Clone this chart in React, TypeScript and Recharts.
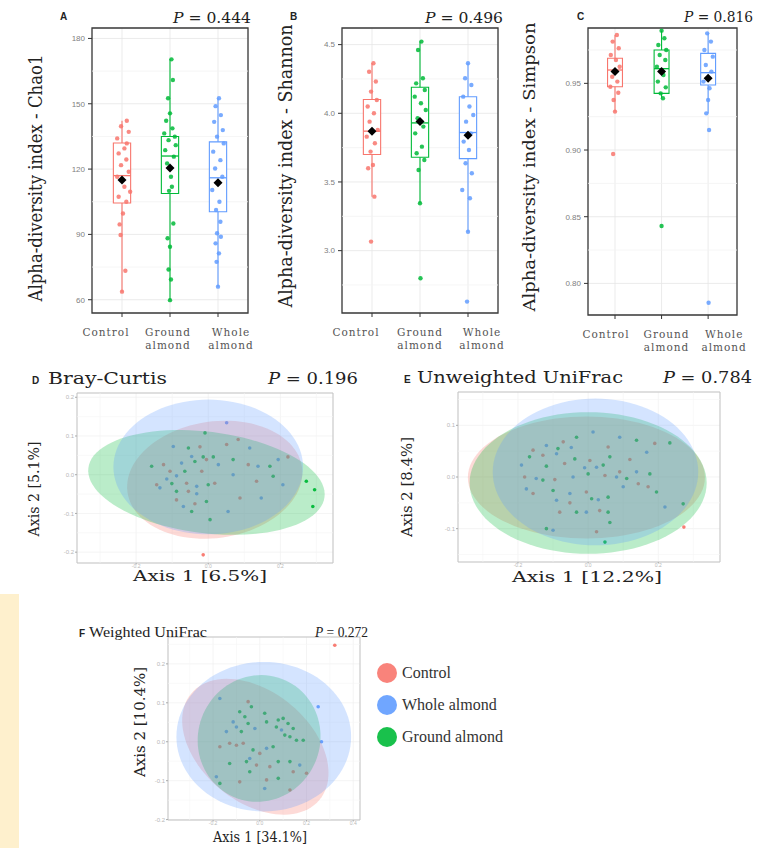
import React from "react";
import { ScatterChart, Scatter, XAxis, YAxis, CartesianGrid, ReferenceArea, ReferenceLine, Legend } from "recharts";

const RED = "#F8766D";
const GREEN = "#00BA38";
const BLUE = "#619CFF";
const SERIF = "'DejaVu Serif', serif";
const TIMES = "'Liberation Serif', serif";
const SANS = "'Liberation Sans', Arial, sans-serif";

const GROUPS = ["Control", "Ground almond", "Whole almond"];
const GROUP_COLORS = [RED, GREEN, BLUE];
const TICK_LINES = [["Control"], ["Ground", "almond"], ["Whole", "almond"]];
const LEGEND_ORDER = [0, 2, 1];
const P_VALUES = ["0.444", "0.496", "0.816", "0.196", "0.784", "0.272"];

type Pair = [number, number];
type BoxStat = { min: number; q1: number; median: number; q3: number; max: number; mean: number };
type Ellipse = { cx: number; cy: number; ax: number; ay: number; bx: number; by: number };

// ---- A: Chao1 (jitter offset, value)
const CHAO1_TICKS = [60, 90, 120, 150, 180];
const CHAO1_MINOR = [75, 105, 135, 165];
const CHAO1_CONTROL: Pair[] = [[0.1, 142.2], [-0.02, 139.7], [0.14, 137.1], [-0.1, 134.1], [0.1, 131.8], [0.05, 129.5], [-0.07, 127.2], [0.09, 124.4], [-0.02, 121.8], [0.14, 118.8], [-0.1, 116.5], [0.05, 111.9], [0.17, 109.6], [-0.07, 107.3], [0.09, 105.0], [0.02, 99.6], [-0.05, 94.6], [-0.03, 89.7], [0.07, 73.3], [0.0, 63.7]];
const CHAO1_GROUND: Pair[] = [[0.03, 170.4], [0.06, 160.9], [-0.04, 152.5], [0.0, 145.6], [-0.08, 142.2], [0.05, 138.7], [-0.12, 136.4], [0.1, 134.9], [-0.03, 133.3], [0.12, 131.0], [-0.1, 128.7], [0.08, 125.7], [-0.06, 122.6], [0.02, 116.5], [0.04, 111.9], [-0.02, 110.0], [0.07, 95.0], [-0.05, 88.2], [0.0, 84.3], [-0.03, 73.9], [0.02, 69.3], [0.0, 59.8]];
const CHAO1_WHOLE: Pair[] = [[0.02, 152.5], [-0.05, 148.9], [0.06, 144.8], [-0.08, 141.7], [0.1, 137.9], [-0.02, 134.9], [0.12, 131.8], [-0.1, 128.0], [0.05, 124.1], [-0.06, 120.3], [0.09, 116.5], [-0.12, 110.4], [0.03, 105.0], [-0.04, 101.2], [0.05, 95.8], [-0.02, 90.5], [0.06, 88.9], [-0.05, 85.9], [0.02, 81.3], [-0.03, 77.4], [0.0, 66.0]];
const CHAO1_BOX: BoxStat[] = [
  { min: 63.7, q1: 104.4, median: 117, q3: 132, max: 142.2, mean: 115 },
  { min: 59.8, q1: 108.8, median: 126, q3: 135, max: 170.4, mean: 120.5 },
  { min: 66.0, q1: 100.4, median: 116, q3: 132.5, max: 152.5, mean: 113.7 },
];

// ---- B: Shannon
const SHANNON_TICKS = [3.0, 3.5, 4.0, 4.5];
const SHANNON_MINOR = [2.75, 3.25, 3.75, 4.25];
const SHANNON_CONTROL: Pair[] = [[0.03, 4.364], [-0.06, 4.303], [0.08, 4.231], [-0.02, 4.158], [0.1, 4.097], [-0.09, 4.049], [0.04, 4.0], [-0.05, 3.939], [0.12, 3.879], [-0.11, 3.83], [0.06, 3.782], [-0.03, 3.721], [0.02, 3.624], [-0.08, 3.6], [0.05, 3.393], [-0.02, 3.066]];
const SHANNON_GROUND: Pair[] = [[0.03, 4.522], [-0.04, 4.461], [0.06, 4.255], [-0.08, 4.218], [0.1, 4.17], [-0.11, 4.121], [0.02, 4.073], [0.12, 4.024], [-0.05, 3.964], [0.07, 3.903], [-0.1, 3.854], [0.04, 3.757], [-0.07, 3.709], [0.09, 3.66], [-0.03, 3.587], [0.0, 3.345], [0.01, 2.799]];
const SHANNON_WHOLE: Pair[] = [[0.0, 4.364], [-0.06, 4.255], [0.07, 4.206], [-0.1, 4.121], [0.03, 4.049], [0.11, 3.988], [-0.04, 3.939], [0.06, 3.854], [-0.09, 3.794], [0.02, 3.733], [-0.05, 3.636], [0.08, 3.563], [-0.12, 3.442], [0.04, 3.381], [0.0, 3.138], [-0.02, 2.629]];
const SHANNON_BOX: BoxStat[] = [
  { min: 3.393, q1: 3.7, median: 3.87, q3: 4.1, max: 4.364, mean: 3.87 },
  { min: 3.345, q1: 3.68, median: 3.93, q3: 4.19, max: 4.522, mean: 3.94 },
  { min: 3.138, q1: 3.67, median: 3.86, q3: 4.12, max: 4.364, mean: 3.84 },
];

// ---- C: Simpson
const SIMPSON_TICKS = [0.8, 0.85, 0.9, 0.95];
const SIMPSON_MINOR = [0.825, 0.875, 0.925, 0.975];
const SIMPSON_CONTROL: Pair[] = [[0.04, 0.9863], [-0.05, 0.9813], [0.08, 0.9763], [-0.09, 0.9713], [0.02, 0.9675], [0.1, 0.9625], [-0.06, 0.955], [0.05, 0.9513], [-0.1, 0.9475], [0.07, 0.943], [-0.03, 0.9375], [0.0, 0.9288], [-0.04, 0.897]];
const SIMPSON_GROUND: Pair[] = [[0.0, 0.9895], [0.06, 0.9838], [-0.07, 0.9788], [0.1, 0.975], [-0.04, 0.9713], [0.08, 0.9675], [-0.1, 0.9625], [0.04, 0.9563], [-0.08, 0.9513], [0.09, 0.947], [-0.02, 0.9425], [0.03, 0.9388], [0.0, 0.843]];
const SIMPSON_WHOLE: Pair[] = [[-0.02, 0.9875], [0.06, 0.9813], [-0.08, 0.975], [0.1, 0.97], [-0.05, 0.9638], [0.07, 0.9588], [-0.1, 0.9513], [0.03, 0.9463], [0.0, 0.9375], [-0.04, 0.9275], [0.02, 0.915], [0.01, 0.7855]];
const SIMPSON_BOX: BoxStat[] = [
  { min: 0.9288, q1: 0.9475, median: 0.96, q3: 0.9688, max: 0.9863, mean: 0.9588 },
  { min: 0.9388, q1: 0.9425, median: 0.961, q3: 0.975, max: 0.9895, mean: 0.9588 },
  { min: 0.9275, q1: 0.9488, median: 0.958, q3: 0.9725, max: 0.9875, mean: 0.9538 },
];

// ---- D: Bray-Curtis PCoA (axis1, axis2)
const BRAY_CONTROL: Pair[] = [[0.083, 0.091], [-0.023, 0.072], [0.051, 0.078], [0.221, 0.046], [-0.124, 0.026], [-0.005, 0.039], [0.111, 0.026], [-0.106, 0.009], [-0.018, 0.009], [0.134, -0.017], [-0.143, -0.026], [-0.06, -0.022], [0.018, -0.022], [-0.055, -0.043], [0.088, -0.06], [-0.088, -0.065], [-0.037, -0.075], [-0.014, -0.207]];
const BRAY_GROUND: Pair[] = [[-0.009, 0.108], [-0.055, 0.069], [-0.014, 0.046], [0.014, 0.046], [-0.157, 0.022], [-0.037, 0.034], [0.069, 0.039], [0.171, 0.022], [-0.065, 0.009], [0.18, -0.004], [0.272, -0.017], [0.295, -0.039], [-0.101, -0.023], [0.0, -0.026], [-0.088, -0.043], [-0.005, -0.069], [0.29, -0.082], [-0.046, -0.095], [0.005, -0.116]];
const BRAY_WHOLE: Pair[] = [[0.051, 0.134], [-0.097, 0.073], [-0.046, 0.047], [0.115, 0.069], [0.194, 0.039], [-0.074, 0.03], [0.028, 0.026], [0.138, 0.022], [-0.088, -0.003], [0.069, 0.0], [0.207, -0.026], [-0.115, -0.011], [-0.032, -0.03], [-0.134, -0.034], [-0.032, -0.049], [0.147, -0.06], [-0.069, -0.082], [0.055, -0.095]];
const BRAY_ELLIPSES: Ellipse[] = [
  { cx: 0.018, cy: -0.013, ax: 0.242, ay: 0.032, bx: -0.022, by: 0.149 },
  { cx: -0.005, cy: -0.02, ax: 0.3275, ay: -0.0376, bx: 0.0171, by: 0.13 },
  { cx: 0.0, cy: 0.02, ax: 0.263, ay: 0, bx: 0, by: 0.174 },
];

// ---- E: Unweighted UniFrac
const UNW_CONTROL: Pair[] = [[-0.071, 0.068], [0.19, 0.065], [-0.157, 0.052], [0.057, 0.058], [-0.129, 0.042], [0.005, 0.032], [0.119, 0.034], [-0.067, 0.026], [0.09, 0.01], [-0.181, 0.0], [-0.095, -0.005], [0.048, 0.003], [0.143, -0.013], [-0.157, -0.032], [-0.005, -0.029], [0.171, -0.019], [-0.052, -0.05], [-0.081, -0.068], [0.033, -0.065], [0.024, -0.106], [0.273, -0.097]];
const UNW_GROUND: Pair[] = [[-0.033, 0.077], [0.138, 0.071], [0.233, 0.066], [-0.086, 0.055], [-0.167, 0.039], [-0.038, 0.035], [0.062, 0.039], [-0.119, 0.021], [0.043, 0.023], [0.176, 0.006], [-0.129, -0.006], [0.0, 0.006], [0.11, -0.003], [-0.1, -0.026], [0.057, -0.039], [0.195, -0.029], [0.01, -0.042], [-0.033, -0.068], [0.057, -0.068], [0.062, -0.088], [0.271, -0.052], [-0.119, -0.1], [0.048, -0.126]];
const UNW_WHOLE: Pair[] = [[0.014, 0.087], [0.09, 0.077], [-0.119, 0.061], [-0.048, 0.057], [0.167, 0.048], [-0.09, 0.045], [0.024, 0.019], [-0.19, 0.023], [-0.01, 0.018], [0.138, 0.01], [-0.148, -0.003], [-0.043, 0.0], [0.081, 0.0], [-0.176, -0.023], [-0.052, -0.032], [0.1, -0.019], [-0.09, -0.045], [0.029, -0.044], [-0.005, -0.068], [0.219, -0.058], [-0.1, -0.103]];
const UNW_ELLIPSES: Ellipse[] = [
  { cx: -0.005, cy: -0.001, ax: 0.338, ay: 0, bx: 0, by: 0.118 },
  { cx: 0.0, cy: -0.0116, ax: 0.338, ay: 0, bx: 0, by: 0.137 },
  { cx: 0.021, cy: 0.0097, ax: 0.293, ay: 0, bx: 0, by: 0.142 },
];

// ---- F: Weighted UniFrac
const W_CONTROL: Pair[] = [[0.321, 0.248], [-0.171, -0.013], [-0.129, -0.004], [-0.1, -0.009], [0.0, -0.03], [-0.014, -0.06], [0.043, -0.064], [0.2, -0.081], [0.029, -0.098], [0.129, -0.124], [-0.086, -0.103], [-0.071, -0.004], [0.143, -0.077], [-0.05, 0.103]];
const W_GROUND: Pair[] = [[-0.036, 0.09], [0.021, 0.073], [-0.086, 0.077], [-0.064, 0.064], [-0.05, 0.047], [-0.079, 0.026], [0.029, 0.051], [0.079, 0.056], [0.1, 0.06], [0.121, 0.047], [0.143, 0.034], [0.071, 0.038], [0.107, 0.017], [0.129, 0.013], [0.157, 0.004], [0.186, 0.004], [-0.029, -0.021], [0.057, -0.013], [-0.129, -0.056], [-0.057, -0.051], [0.079, -0.051], [0.129, -0.051], [-0.171, -0.107], [-0.043, -0.077], [0.079, -0.094]];
const W_WHOLE: Pair[] = [[-0.114, 0.051], [-0.143, 0.026], [0.25, 0.09], [0.264, 0.0], [0.029, -0.017], [-0.1, 0.038], [-0.021, 0.034], [0.093, 0.03], [-0.043, -0.043], [0.171, -0.06], [-0.186, -0.09], [0.021, -0.12], [-0.171, 0.111]];
const W_ELLIPSES: Ellipse[] = [
  { cx: -0.019, cy: -0.0128, ax: 0.274, ay: -0.137, bx: 0.152, by: 0.108 },
  { cx: -0.003, cy: 0.0085, ax: 0.26, ay: 0.03, bx: -0.04, by: 0.16 },
  { cx: 0.017, cy: 0.013, ax: 0.374, ay: 0, bx: 0, by: 0.192 },
];

type Frame = { x0: number; x1: number; y0: number; y1: number };

const noDot = () => <g />;
const dot = (color: string, r: number, opacity = 0.9) => (p: any) => (
  <circle cx={p.cx} cy={p.cy} r={r} fill={color} fillOpacity={opacity} />
);
const diamond = (p: any) => (
  <path d={`M${p.cx},${p.cy - 4.5}L${p.cx + 4.5},${p.cy}L${p.cx},${p.cy + 4.5}L${p.cx - 4.5},${p.cy}Z`} fill="#000" />
);

function ellipseOutline(e: Ellipse, n = 96) {
  const pts: { x: number; y: number }[] = [];
  for (let i = 0; i < n; i++) {
    const t = (2 * Math.PI * i) / n;
    pts.push({ x: e.cx + e.ax * Math.cos(t) + e.bx * Math.sin(t), y: e.cy + e.ay * Math.cos(t) + e.by * Math.sin(t) });
  }
  return pts;
}

const toXY = (pts: Pair[], base = 0) => pts.map(([a, b]) => ({ x: base + a, y: b }));

function BoxPanel({ frame, xDomain, yDomain, yTicks, yMinor, fmt, stats, groups, hw, labelDx }: {
  frame: Frame; xDomain: [number, number]; yDomain: [number, number]; yTicks: number[]; yMinor: number[];
  fmt: (v: number) => string; stats: BoxStat[]; groups: Pair[][]; hw: number; labelDx: number[];
}) {
  const YW = 32;
  const XH = 42;
  const RIGHT = 26;
  const left = frame.x0 - YW;
  const top = frame.y0 - 2;
  const width = frame.x1 - left + RIGHT;
  const height = frame.y1 - top + XH;

  const CatTick = (props: any) => {
    const { x, payload } = props;
    const i = Math.round(payload.value) - 1;
    const lines = TICK_LINES[i] || [];
    const base = frame.y1 - top;
    return (
      <g>
        {lines.map((l, k) => (
          <text key={k} x={x + labelDx[i]} y={base + 23 + k * 12.5} textAnchor="middle" fontFamily={SERIF} fontSize={10.5} letterSpacing={1} fill="#555">{l}</text>
        ))}
      </g>
    );
  };

  const series: React.ReactNode[] = [];
  stats.forEach((s, i) => {
    const c = i + 1;
    const col = GROUP_COLORS[i];
    series.push(
      <Scatter key={`w${i}`} data={[{ x: c, y: s.max }, { x: c, y: s.min }]} fill={col} line={{ stroke: col, strokeWidth: 1.1 }} shape={noDot} isAnimationActive={false} />
    );
    series.push(
      <Scatter key={`b${i}`} data={[{ x: c - hw, y: s.q1 }, { x: c + hw, y: s.q1 }, { x: c + hw, y: s.q3 }, { x: c - hw, y: s.q3 }]} fill={col} lineJointType="linearClosed" line={{ stroke: col, strokeWidth: 1.1, fill: "#fff" }} shape={noDot} isAnimationActive={false} />
    );
    series.push(
      <Scatter key={`m${i}`} data={[{ x: c - hw, y: s.median }, { x: c + hw, y: s.median }]} fill={col} line={{ stroke: col, strokeWidth: 1.3 }} shape={noDot} isAnimationActive={false} />
    );
  });
  groups.forEach((g, i) => {
    series.push(<Scatter key={`p${i}`} data={toXY(g, i + 1)} fill={GROUP_COLORS[i]} shape={dot(GROUP_COLORS[i], 2.2, 0.85)} isAnimationActive={false} />);
  });
  series.push(<Scatter key="mean" data={stats.map((s, i) => ({ x: i + 1, y: s.mean }))} fill="#000" shape={diamond} isAnimationActive={false} />);

  return (
    <div style={{ position: "absolute", left, top }}>
      <ScatterChart width={width} height={height} margin={{ top: 2, right: RIGHT, bottom: 0, left: 0 }}>
        <CartesianGrid stroke="#e6e6e6" strokeWidth={0.8} />
        {yMinor.map((v) => <ReferenceLine key={v} y={v} stroke="#f2f2f2" strokeWidth={0.8} />)}
        <XAxis type="number" dataKey="x" domain={xDomain} ticks={[1, 2, 3]} allowDataOverflow axisLine={false} tickSize={4} tickLine={{ stroke: "#333" }} height={XH} tick={<CatTick />} interval={0} />
        <YAxis type="number" dataKey="y" domain={yDomain} ticks={yTicks} allowDataOverflow axisLine={false} tickSize={4} tickMargin={3} tickLine={{ stroke: "#333" }} width={YW} tick={{ fontSize: 8, fill: "#808080", fontFamily: SANS }} tickFormatter={fmt} interval={0} />
        {series}
        <ReferenceArea x1={xDomain[0]} x2={xDomain[1]} y1={yDomain[0]} y2={yDomain[1]} fill="none" stroke="#3a3a3a" strokeWidth={1.3} />
      </ScatterChart>
    </div>
  );
}

function PcoaLegend() {
  return (
    <div>
      {LEGEND_ORDER.map((g) => (
        <div key={g} style={{ display: "flex", alignItems: "center", height: 32 }}>
          <span style={{ display: "inline-block", width: 20, height: 20, borderRadius: 10, background: GROUP_COLORS[g], opacity: 0.9 }} />
          <span style={{ marginLeft: 5, fontFamily: TIMES, fontSize: 16, color: "#333" }}>{GROUPS[g]}</span>
        </div>
      ))}
    </div>
  );
}

function PcoaPanel({ frame, xDomain, yDomain, xTicks, yTicks, xMinor, yMinor, groups, ellipses, legend }: {
  frame: Frame; xDomain: [number, number]; yDomain: [number, number]; xTicks: number[]; yTicks: number[];
  xMinor: number[]; yMinor: number[]; groups: Pair[][]; ellipses: Ellipse[]; legend?: boolean;
}) {
  const YW = 14;
  const XH = 8;
  const left = frame.x0 - YW;
  const top = frame.y0 - 2;
  const right = legend ? 170 : 4;
  const width = frame.x1 - left + right;
  const height = frame.y1 - top + XH;
  const f1 = (v: number) => v.toFixed(1);
  return (
    <div style={{ position: "absolute", left, top }}>
      <ScatterChart width={width} height={height} margin={{ top: 2, right, bottom: 0, left: 0 }}>
        <CartesianGrid stroke="#ececec" strokeWidth={0.6} />
        {xMinor.map((v) => <ReferenceLine key={`x${v}`} x={v} stroke="#f5f5f5" strokeWidth={0.6} />)}
        {yMinor.map((v) => <ReferenceLine key={`y${v}`} y={v} stroke="#f5f5f5" strokeWidth={0.6} />)}
        <XAxis type="number" dataKey="x" domain={xDomain} ticks={xTicks} allowDataOverflow axisLine={false} tickSize={1.5} tickMargin={0} tickLine={{ stroke: "#aaa" }} height={XH} tick={{ fontSize: 5, fill: "#b8b8b8", fontFamily: SANS }} tickFormatter={f1} interval={0} />
        <YAxis type="number" dataKey="y" domain={yDomain} ticks={yTicks} allowDataOverflow axisLine={false} tickSize={2} tickMargin={1} tickLine={{ stroke: "#aaa" }} width={YW} tick={{ fontSize: 6, fill: "#b8b8b8", fontFamily: SANS }} tickFormatter={f1} interval={0} />
        {groups.map((g, i) => (
          <Scatter key={`p${i}`} data={toXY(g)} fill={GROUP_COLORS[i]} shape={dot(GROUP_COLORS[i], 1.8, 0.95)} isAnimationActive={false} />
        ))}
        {ellipses.map((e, i) => (
          <Scatter key={`e${i}`} data={ellipseOutline(e)} fill={GROUP_COLORS[i]} lineJointType="linearClosed" line={{ stroke: "none", fill: GROUP_COLORS[i], fillOpacity: 0.27 }} shape={noDot} isAnimationActive={false} />
        ))}
        <ReferenceArea x1={xDomain[0]} x2={xDomain[1]} y1={yDomain[0]} y2={yDomain[1]} fill="none" stroke="#c4c4c4" strokeWidth={1} />
        {legend && (
          <Legend layout="vertical" align="center" verticalAlign="middle" content={<PcoaLegend />}
            wrapperStyle={{ left: 377 - left, top: 657 - top, width: 150 }} />
        )}
      </ScatterChart>
    </div>
  );
}

function Label({ x, y, len, size, family = SERIF, anchor = "start", rotate = false, weight = 400, fill = "#222", children }: any) {
  return (
    <text x={x} y={y} fontSize={size} fontFamily={family} fontWeight={weight} textAnchor={anchor} fill={fill}
      textLength={len} lengthAdjust={len ? "spacingAndGlyphs" : undefined}
      transform={rotate ? `rotate(-90 ${x} ${y})` : undefined}>
      {children}
    </text>
  );
}

function PText({ x, y, len, size, value, family = SERIF }: { x: number; y: number; len: number; size: number; value: string; family?: string }) {
  return (
    <Label x={x} y={y} len={len} size={size} family={family}>
      <tspan fontStyle="italic">P</tspan> = {value}
    </Label>
  );
}

function Letter({ x, y, c }: { x: number; y: number; c: string }) {
  return <Label x={x} y={y} size={10} family={SANS} weight={700}>{c}</Label>;
}

export default function App() {
  return (
    <div style={{ position: "absolute", left: 0, top: 0, width: 774, height: 848, background: "#fff", overflow: "hidden" }}>
      <div style={{ position: "absolute", left: 0, top: 594, width: 19, height: 254, background: "#FEF0CD" }} />

      <BoxPanel frame={{ x0: 92, x1: 248, y0: 28, y1: 313 }} xDomain={[0.375, 3.625]} yDomain={[53.9, 184.8]}
        yTicks={CHAO1_TICKS} yMinor={CHAO1_MINOR} fmt={(v) => String(v)} stats={CHAO1_BOX}
        groups={[CHAO1_CONTROL, CHAO1_GROUND, CHAO1_WHOLE]} hw={0.18} labelDx={[-16, -2, 13]} />
      <BoxPanel frame={{ x0: 342, x1: 498, y0: 28, y1: 313 }} xDomain={[0.375, 3.625]} yDomain={[2.546, 4.621]}
        yTicks={SHANNON_TICKS} yMinor={SHANNON_MINOR} fmt={(v) => v.toFixed(1)} stats={SHANNON_BOX}
        groups={[SHANNON_CONTROL, SHANNON_GROUND, SHANNON_WHOLE]} hw={0.18} labelDx={[-16, 0, 14]} />
      <BoxPanel frame={{ x0: 588, x1: 737, y0: 28, y1: 315 }} xDomain={[0.42, 3.62]} yDomain={[0.7763, 0.9915]}
        yTicks={SIMPSON_TICKS} yMinor={SIMPSON_MINOR} fmt={(v) => v.toFixed(2)} stats={SIMPSON_BOX}
        groups={[SIMPSON_CONTROL, SIMPSON_GROUND, SIMPSON_WHOLE]} hw={0.16} labelDx={[-9, 5, 16]} />

      <PcoaPanel frame={{ x0: 77, x1: 333, y0: 393, y1: 563 }} xDomain={[-0.364, 0.346]} yDomain={[-0.228, 0.211]}
        xTicks={[-0.2, 0, 0.2]} yTicks={[-0.2, -0.1, 0, 0.1, 0.2]} xMinor={[-0.3, -0.1, 0.1, 0.3]} yMinor={[-0.15, -0.05, 0.05, 0.15]}
        groups={[BRAY_CONTROL, BRAY_GROUND, BRAY_WHOLE]} ellipses={BRAY_ELLIPSES} />
      <PcoaPanel frame={{ x0: 458, x1: 720, y0: 392, y1: 562 }} xDomain={[-0.371, 0.376]} yDomain={[-0.1645, 0.1645]}
        xTicks={[-0.2, 0, 0.2]} yTicks={[-0.1, 0, 0.1]} xMinor={[-0.3, -0.1, 0.1, 0.3]} yMinor={[-0.15, -0.05, 0.05, 0.15]}
        groups={[UNW_CONTROL, UNW_GROUND, UNW_WHOLE]} ellipses={UNW_ELLIPSES} />
      <PcoaPanel frame={{ x0: 168, x1: 360, y0: 637, y1: 820 }} xDomain={[-0.393, 0.429]} yDomain={[-0.201, 0.269]}
        xTicks={[-0.2, 0, 0.2, 0.4]} yTicks={[-0.2, -0.1, 0, 0.1, 0.2]} xMinor={[-0.3, -0.1, 0.1, 0.3]} yMinor={[-0.15, -0.05, 0.05, 0.15, 0.25]}
        groups={[W_CONTROL, W_GROUND, W_WHOLE]} ellipses={W_ELLIPSES} legend />

      <svg width={774} height={848} style={{ position: "absolute", left: 0, top: 0, pointerEvents: "none" }}>
        <Letter x={60} y={20} c="A" />
        <PText x={173} y={23} len={78} size={15} value={P_VALUES[0]} />
        <Label x={42} y={178} len={247} size={19} anchor="middle" rotate>Alpha-diversity index - Chao1</Label>

        <Letter x={290} y={20} c="B" />
        <PText x={425} y={23} len={78} size={15} value={P_VALUES[1]} />
        <Label x={292} y={166} len={283} size={19} anchor="middle" rotate>Alpha-diversity index - Shannon</Label>

        <Letter x={577} y={20} c="C" />
        <PText x={684} y={22} len={69} size={14} value={P_VALUES[2]} />
        <Label x={535} y={167} len={289} size={17} anchor="middle" rotate>Alpha-diversity index - Simpson</Label>

        <Letter x={32} y={384} c="D" />
        <Label x={48} y={384} len={119} size={16}>Bray-Curtis</Label>
        <PText x={268} y={384} len={90} size={16} value={P_VALUES[3]} />
        <Label x={39} y={489} len={95} size={15} anchor="middle" rotate>Axis 2 [5.1%]</Label>
        <Label x={200} y={581} len={134} size={14} anchor="middle">Axis 1 [6.5%]</Label>

        <Letter x={404} y={383} c="E" />
        <Label x={417} y={383} len={206} size={16}>Unweighted UniFrac</Label>
        <PText x={663} y={383} len={89} size={16} value={P_VALUES[4]} />
        <Label x={412} y={487} len={100} size={15} anchor="middle" rotate>Axis 2 [8.4%]</Label>
        <Label x={587} y={582} len={150} size={14} anchor="middle">Axis 1 [12.2%]</Label>

        <Letter x={79} y={637} c="F" />
        <Label x={89} y={637} len={118} size={15} family={TIMES}>Weighted UniFrac</Label>
        <PText x={315} y={637} len={53} size={14} value={P_VALUES[5]} family={TIMES} />
        <Label x={145} y={722} len={110} size={14} anchor="middle" rotate>Axis 2 [10.4%]</Label>
        <Label x={260} y={842} len={94} size={14} anchor="middle">Axis 1 [34.1%]</Label>
      </svg>
    </div>
  );
}
